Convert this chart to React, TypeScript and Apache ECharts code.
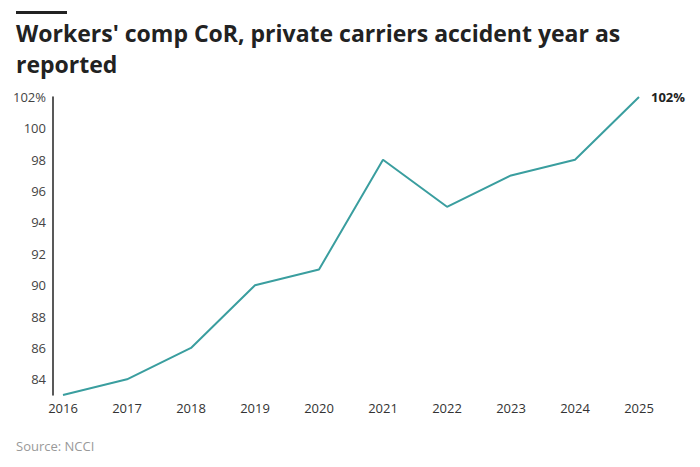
import React, { useEffect, useRef } from "react";
import * as echarts from "echarts";

const years = ["2016", "2017", "2018", "2019", "2020", "2021", "2022", "2023", "2024", "2025"];
const corValues = [83, 84, 86, 90, 91, 98, 95, 97, 98, 102];
const titleText = "Workers' comp CoR, private carriers accident year as\nreported";
const sourceText = "Source: NCCI";

export default function App() {
  const ref = useRef<HTMLDivElement>(null);
  useEffect(() => {
    if (!ref.current) return;
    const chart = echarts.init(ref.current, null, { renderer: "svg" });
    const font = "'Open Sans', 'Noto Sans', sans-serif";
    const lastIdx = corValues.length - 1;
    chart.setOption({
      animation: false,
      textStyle: { fontFamily: font },
      graphic: [
        { type: "rect", left: 16, top: 11, shape: { width: 51, height: 3 }, style: { fill: "#222" } },
        {
          type: "text",
          left: 16,
          top: 17,
          style: {
            text: titleText,
            font: `bold 23px ${font}`,
            fill: "#222",
            lineHeight: 31,
          },
        },
        {
          type: "text",
          left: 16,
          top: 439,
          style: { text: sourceText, font: `13px ${font}`, fill: "#999" },
        },
      ],
      grid: { left: 63, right: 61, top: 97, bottom: 72, containLabel: false },
      xAxis: {
        type: "category",
        data: years,
        boundaryGap: false,
        axisLine: { show: false },
        axisTick: { show: false },
        axisLabel: { color: "#333", fontSize: 13, margin: 6, fontFamily: font },
      },
      yAxis: {
        type: "value",
        min: 83,
        max: 102,
        interval: 1,
        offset: 10,
        splitLine: { show: false },
        axisTick: { show: false },
        axisLine: { show: true, lineStyle: { color: "#222", width: 1.5 } },
        axisLabel: {
          color: "#444",
          fontSize: 13,
          margin: 7,
          fontFamily: font,
          formatter: (v: number) => (v % 2 !== 0 ? "" : v === 102 ? "102%" : String(v)),
        },
      },
      series: [
        {
          type: "line",
          data: corValues,
          symbol: "none",
          lineStyle: { color: "#3a9e9f", width: 2 },
          itemStyle: { color: "#3a9e9f" },
          markPoint: {
            symbol: "circle",
            symbolSize: 0,
            data: [{ coord: [lastIdx, corValues[lastIdx]], value: corValues[lastIdx] }],
            label: {
              show: true,
              position: "right",
              distance: 12,
              formatter: (p: any) => `${p.value}%`,
              color: "#222",
              fontWeight: "bold",
              fontSize: 13,
              fontFamily: font,
            },
          },
        },
      ],
    });
    return () => chart.dispose();
  }, []);
  return (
    <div
      ref={ref}
      style={{ position: "absolute", left: 0, top: 0, width: 700, height: 467 }}
    />
  );
}
